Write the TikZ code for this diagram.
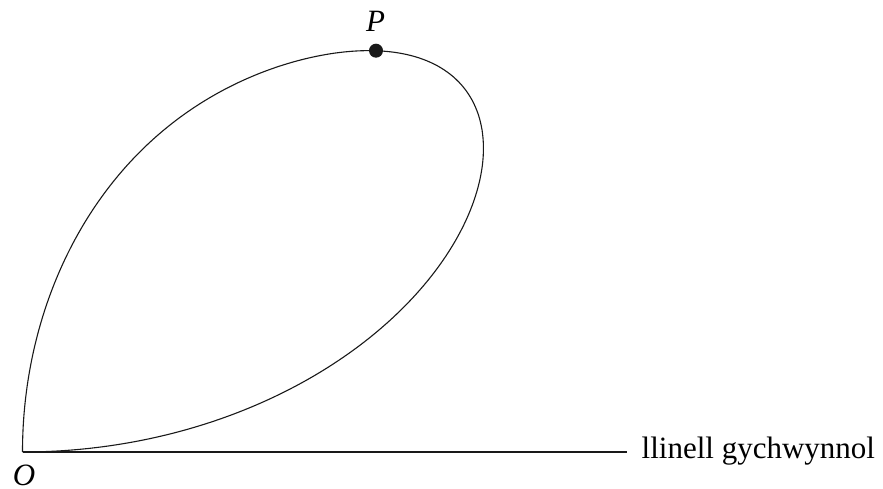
\documentclass[tikz,border=0pt]{standalone}
\usepackage{fontspec}
\setmainfont{Liberation Serif}
\begin{document}
\begin{tikzpicture}[x=1pt,y=1pt,
  declare function={ff(\t)=467.5+149.8/(1+exp((\t-48)/7));},
  curveline/.style={line width=1.1pt,black!90},
  baseline/.style={line width=2.6pt,black!90},
  lbl/.style={font=\fontsize{31}{36}\selectfont, inner sep=0pt},
  dotstyle/.style={circle,fill=black!90,inner sep=0pt,minimum size=14pt}]
\useasboundingbox (-22.5,-37) rectangle (860.5,452);
\coordinate (O) at (0,0);
\coordinate (lineend) at (604.5,0);
\draw[baseline,line cap=butt] (O) -- (lineend);
\draw[curveline,line join=round] plot[domain=0:90,samples=240,variable=\t,smooth]
  ({ff(\t)*sin(2*\t)*cos(\t)},{ff(\t)*sin(2*\t)*sin(\t)});
\node[dotstyle] (P) at (353.5,401.3) {};
\node[lbl,anchor=base] (Plbl) at (353,420.3) {\textit{P}};
\node[lbl,anchor=base] (Olbl) at (1.5,-33.5) {\textit{O}};
\node[lbl,anchor=base west] (init) at (619,-7) {llinell gychwynnol};
\end{tikzpicture}
\end{document}
